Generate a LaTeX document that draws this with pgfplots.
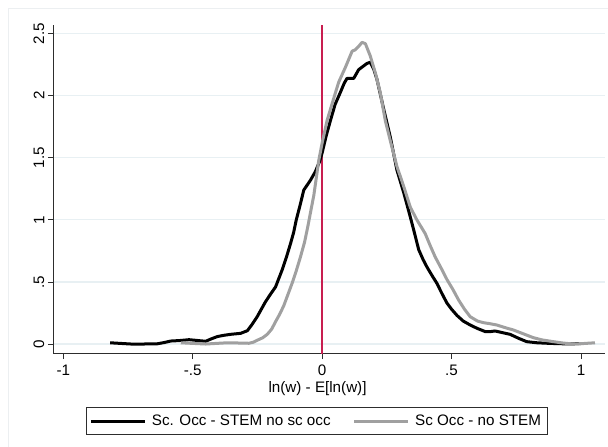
\documentclass[border=0pt]{standalone}
\usepackage{fontspec}
\setmainfont{Liberation Sans}
\usepackage{pgfplots}
\pgfplotsset{compat=1.18}

\definecolor{stemgray}{RGB}{160,160,160}
\definecolor{zeroline}{RGB}{200,30,80}
\definecolor{gridc}{RGB}{232,240,243}
\definecolor{axisc}{RGB}{45,45,45}
\definecolor{framec}{RGB}{236,239,241}

\newcommand\fs{\fontsize{15.2}{18}\selectfont}

% kernel density estimates of log-wage deviations
\pgfplotstableread{
x y
-0.819 0.010
-0.780 0.005
-0.739 0.000
-0.690 0.000
-0.636 0.002
-0.610 0.012
-0.585 0.024
-0.550 0.028
-0.514 0.035
-0.480 0.028
-0.450 0.022
-0.430 0.040
-0.405 0.060
-0.380 0.070
-0.354 0.078
-0.315 0.086
-0.289 0.107
-0.270 0.160
-0.251 0.220
-0.235 0.280
-0.219 0.340
-0.200 0.400
-0.180 0.460
-0.154 0.600
-0.138 0.700
-0.122 0.810
-0.110 0.900
-0.100 1.000
-0.085 1.120
-0.071 1.240
-0.045 1.320
-0.026 1.390
-0.010 1.470
0.000 1.540
0.016 1.680
0.032 1.800
0.050 1.930
0.071 2.030
0.085 2.100
0.096 2.140
0.122 2.140
0.141 2.210
0.160 2.240
0.173 2.260
0.186 2.270
0.200 2.210
0.212 2.130
0.225 2.010
0.238 1.890
0.263 1.670
0.289 1.400
0.315 1.220
0.341 1.020
0.356 0.900
0.373 0.760
0.390 0.680
0.405 0.620
0.425 0.550
0.443 0.490
0.462 0.410
0.482 0.330
0.500 0.280
0.521 0.230
0.545 0.185
0.572 0.153
0.600 0.125
0.630 0.100
0.650 0.100
0.668 0.105
0.700 0.090
0.726 0.078
0.760 0.045
0.790 0.019
0.830 0.010
0.880 0.005
0.945 0.001
1.000 0.003
}\stemnosc

\pgfplotstableread{
x y
-0.546 0.010
-0.500 0.005
-0.450 0.000
-0.400 0.006
-0.366 0.010
-0.320 0.008
-0.283 0.006
-0.265 0.015
-0.251 0.030
-0.230 0.050
-0.212 0.078
-0.195 0.120
-0.180 0.180
-0.164 0.240
-0.148 0.310
-0.132 0.400
-0.116 0.490
-0.100 0.590
-0.084 0.700
-0.068 0.820
-0.055 0.950
-0.045 1.060
-0.032 1.200
-0.013 1.480
0.000 1.620
0.019 1.800
0.039 1.940
0.064 2.110
0.090 2.230
0.116 2.360
0.128 2.370
0.142 2.400
0.154 2.430
0.167 2.420
0.186 2.320
0.206 2.180
0.225 2.020
0.244 1.800
0.263 1.640
0.289 1.430
0.315 1.270
0.341 1.100
0.366 1.000
0.398 0.890
0.418 0.790
0.437 0.700
0.460 0.610
0.482 0.520
0.505 0.440
0.527 0.355
0.550 0.280
0.572 0.220
0.600 0.185
0.623 0.172
0.650 0.163
0.675 0.153
0.710 0.130
0.739 0.113
0.780 0.080
0.816 0.051
0.850 0.033
0.893 0.019
0.930 0.008
0.970 0.000
1.010 0.004
1.054 0.010
}\nostem

\begin{document}
\begin{tikzpicture}[x=1pt,y=1pt]
\path[use as bounding box] (-53.3,-93.3) rectangle (554.7,353.7);
\draw[framec, line width=0.8pt] (-45.3,-93.3) -- (-45.3,345.7) -- (554.7,345.7);
\begin{axis}[
  at={(0,0)}, anchor=south west,
  scale only axis, width=551.7pt, height=328.7pt,
  xmin=-1.0386, xmax=1.0927, ymin=-0.078, ymax=2.57,
  axis x line*=bottom, axis y line*=left,
  axis line style={axisc, line width=0.9pt},
  xtick={-1,-0.5,0,0.5,1}, xticklabels={-1,-.5,0,.5,1},
  ytick={0,0.5,1,1.5,2,2.5}, yticklabels={0,.5,1,1.5,2,2.5},
  tick align=outside, major tick length=5.5pt,
  tick style={axisc, line width=0.8pt},
  ymajorgrids, grid style={gridc, line width=1.2pt},
  xticklabel style={font=\fs, yshift=-2.5pt},
  yticklabel style={font=\fs, rotate=90, anchor=south},
  /pgf/number format/assume math mode=true,
  xlabel={ln(w) - E[ln(w)]},
  xlabel style={font=\fs, at={(axis description cs:0.479,0)}, anchor=base, yshift=-39pt},
  legend columns=2,
  legend image code/.code={\draw[#1] (0pt,0pt) -- (54pt,0pt);},
  legend style={
    at={(0.4774,-0.163)}, anchor=north,
    draw=axisc, line width=0.8pt, font=\fs,
    inner xsep=3.3pt, inner ysep=4.5pt,
    nodes={inner xsep=3pt, inner ysep=3pt},
    cells={anchor=west},
    /tikz/every odd column/.append style={column sep=2.5pt},
    /tikz/every even column/.append style={column sep=19pt},
  },
]
\addplot[zeroline, line width=1.4pt, forget plot] coordinates {(0,-0.078) (0,2.57)};
\addplot[black, line width=3pt, line join=round] table[x=x,y=y] {\stemnosc};
\addplot[stemgray, line width=3pt, line join=round] table[x=x,y=y] {\nostem};
\legend{Sc. Occ - STEM no sc occ, Sc Occ - no STEM}
\end{axis}
\end{tikzpicture}
\end{document}
